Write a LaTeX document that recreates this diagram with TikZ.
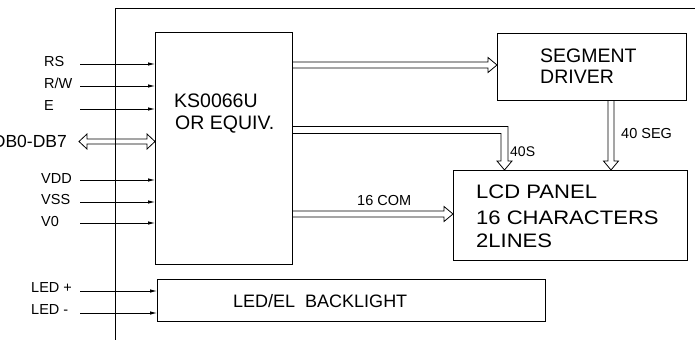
\documentclass[tikz,border=0pt]{standalone}
\usepackage{fontspec}
\setmainfont{Liberation Sans}
\usetikzlibrary{arrows.meta,calc}
\newcommand\fsmall{\fontsize{14.5}{16}\selectfont}
\newcommand\fbig{\fontsize{19.5}{22}\selectfont}
\tikzset{
  box/.style={draw,line width=0.9pt,inner sep=0pt,anchor=north west},
  txt/.style={inner sep=0pt,anchor=base west},
  sig/.style={line width=0.75pt,-{Latex[length=7pt,width=3.5pt]}},
  hol/.style={line width=0.8pt,line join=miter},
  frame/.style={line width=0.9pt}
}
% hollow straight arrow from #1 to tip #2
\newcommand\hollowarrow[2]{%
  \coordinate (hb) at ($(#2)!9pt!(#1)$);
  \draw[hol] ($(#1)!3pt!90:(#2)$) -- ($(hb)!3pt!90:(#2)$) -- ($(hb)!7.5pt!90:(#2)$)
    -- (#2) -- ($(hb)!7.5pt!-90:(#2)$) -- ($(hb)!3pt!-90:(#2)$) -- ($(#1)!3pt!-90:(#2)$);
}
\begin{document}
\begin{tikzpicture}[x=1pt,y=-1pt]
\useasboundingbox (0,0) rectangle (695,340);
% outer frame
\coordinate (ftr) at (695,8);
\coordinate (fcorner) at (115,8);
\coordinate (fbl) at (115,340);
\draw[frame] (ftr) -- (fcorner) -- (fbl);
% boxes
\node[box,minimum width=137pt,minimum height=232pt] (ctrl) at (155,32) {};
\node[box,minimum width=189pt,minimum height=67pt] (seg) at (497,33) {};
\node[box,minimum width=234pt,minimum height=90pt] (lcd) at (453,170) {};
\node[box,minimum width=388pt,minimum height=42pt] (bl) at (157,279) {};
% box texts
\node[txt,font=\fbig] (t1) at (174,107) {KS0066U};
\node[txt,font=\fbig] (t2) at (175,129) {OR EQUIV.};
\node[txt,font=\fbig] (t3) at (540,62) {SEGMENT};
\node[txt,font=\fbig] (t4) at (540,83) {DRIVER};
\node[txt,font=\fbig] (t5) at (476,198) {\scalebox{1.13}[1]{LCD PANEL}};
\node[txt,font=\fbig] (t6) at (476,224) {\scalebox{1.13}[1]{16 CHARACTERS}};
\node[txt,font=\fbig] (t7) at (476,247) {\scalebox{1.13}[1]{2LINES}};
\node[txt,font=\fontsize{18}{20}\selectfont] (t8) at (233,307) {LED/EL\ \ BACKLIGHT};
% input labels
\node[txt,font=\fsmall] (lrs) at (44,66) {RS};
\node[txt,font=\fsmall] (lrw) at (44,88) {R/W};
\node[txt,font=\fsmall] (le) at (44,110) {E};
\node[inner sep=0pt,anchor=base east,font=\fontsize{17.5}{19}\selectfont] (ldb) at (67,147) {DB0-DB7};
\node[txt,font=\fsmall] (lvdd) at (41,183) {VDD};
\node[txt,font=\fsmall] (lvss) at (41,204) {VSS};
\node[txt,font=\fsmall] (lv0) at (41,226) {V0};
\node[txt,font=\fsmall] (lledp) at (31,292) {LED +};
\node[txt,font=\fsmall] (lledm) at (31,314) {LED -};
% input arrows
\coordinate (srs) at (80,64);
\coordinate (srw) at (80,86);
\coordinate (se) at (80,109);
\coordinate (svdd) at (80,180);
\coordinate (svss) at (80,202);
\coordinate (sv0) at (80,223);
\coordinate (sledp) at (80,291);
\coordinate (sledm) at (80,313);
\foreach \s in {srs,srw,se,svdd,svss,sv0}{\draw[sig] (\s) -- (\s -| ctrl.west);}
\foreach \s in {sledp,sledm}{\draw[sig] (\s) -- (\s -| bl.west);}
% data bus double hollow arrow
\coordinate (dbl) at (79,141.5);
\coordinate (dbr) at (ctrl.west |- dbl);
\draw[hol] ($(dbl)+(8,-2.5)$) -- ($(dbr)+(-8,-2.5)$) -- ($(dbr)+(-8,-7.5)$) -- (dbr)
  -- ($(dbr)+(-8,7.5)$) -- ($(dbr)+(-8,2.5)$) -- ($(dbl)+(8,2.5)$) -- ($(dbl)+(8,7.5)$)
  -- (dbl) -- ($(dbl)+(8,-7.5)$) -- cycle;
% controller -> segment driver
\coordinate (a1s) at (ctrl.east |- 0,65);
\coordinate (a1e) at (seg.west |- 0,65);
\hollowarrow{a1s}{a1e}
% controller -> LCD (40S), bent
\coordinate (s0) at (ctrl.east |- 0,130);
\coordinate (s1) at (504.5,130);
\coordinate (s2) at (s1 |- lcd.north);
\draw[hol] ($(s0)+(0,-3.5)$) -- ($(s1)+(3.5,-3.5)$) -- ($(s2)+(3.5,-9)$) -- ($(s2)+(7.5,-9)$)
  -- (s2) -- ($(s2)+(-7.5,-9)$) -- ($(s2)+(-3.5,-9)$) -- ($(s1)+(-3.5,3.5)$) -- ($(s0)+(0,3.5)$);
\node[txt,font=\fontsize{14}{16}\selectfont] (l40s) at (510,156) {40S};
% segment driver -> LCD
\coordinate (a3s) at (seg.south -| 611,0);
\coordinate (a3e) at (lcd.north -| 611,0);
\hollowarrow{a3s}{a3e}
\node[txt,font=\fsmall] (l40seg) at (621,138) {40 SEG};
% controller -> LCD (16 COM)
\coordinate (a4s) at (ctrl.east |- 0,214);
\coordinate (a4e) at (lcd.west |- 0,214);
\hollowarrow{a4s}{a4e}
\node[txt,font=\fsmall] (l16) at (357,205) {16 COM};
\end{tikzpicture}
\end{document}
